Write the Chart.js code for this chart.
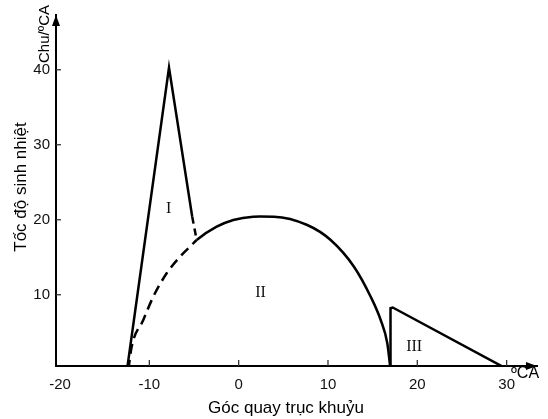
<!DOCTYPE html>
<html>
<head>
<meta charset="utf-8">
<script src="https://cdn.jsdelivr.net/npm/chart.js@4/dist/chart.umd.min.js"></script>
<style>
  html, body { margin: 0; padding: 0; background: #fff; }
  #wrap { width: 548px; height: 419px; }
</style>
</head>
<body>
<div id="wrap"><canvas id="c" width="548" height="419"></canvas></div>
<script>
// tick labels
const xTicks = [-20, -10, 0, 10, 20, 30];
const yTicks = [10, 20, 30, 40];

// I: kinetic peak, last bit dashed
const peakX = [-12.5, -7.8, -5.2, -4.7];
const peakY = [0, 40.3, 20.4, 17.3];

// II: diffusion burning (dashed up to index riseEnd, solid after)
const burnX = [-12.35, -11.98, -10.68, -9.56, -8.06, -6.57, -5.26, -4.7, -2.46, -0.6, 1.63, 2.39, 3.95, 7.68, 10.3, 12.91, 14.78, 15.9, 16.64, 17.0];
const burnY = [0, 3.07, 6.63, 9.74, 12.86, 15.07, 16.63, 17.3, 19.07, 19.97, 20.41, 20.43, 20.41, 19.3, 17.3, 13.74, 9.74, 6.63, 3.53, 0];
const riseEnd = 7;

// III: afterburning
const tailX = [17.0, 17.0, 17.25, 30.2];
const tailY = [0, 8.2, 8.3, 0];

// zone labels
const zoneText = ['I', 'II', 'III'];
const zoneX = [-7.85, 2.45, 19.65];
const zoneY = [21.4, 10.2, 3.0];

const pts = (xs, ys) => xs.map((v, i) => ({ x: v, y: ys[i] }));
const SANS = '"Liberation Sans", Arial, sans-serif';
const SERIF = '"Liberation Serif", "Times New Roman", serif';

const decor = {
    id: 'decor',
    afterDraw(chart) {
        const { ctx, chartArea: a, scales: { x, y } } = chart;
        ctx.save();
        // inward tick marks
        ctx.strokeStyle = '#333';
        ctx.lineWidth = 1.3;
        xTicks.forEach(v => {
            const px = x.getPixelForValue(v);
            if (px - a.left < 8) return;
            ctx.beginPath(); ctx.moveTo(px, a.bottom); ctx.lineTo(px, a.bottom - 6); ctx.stroke();
        });
        yTicks.forEach(v => {
            const py = y.getPixelForValue(v);
            ctx.beginPath(); ctx.moveTo(a.left, py); ctx.lineTo(a.left + 5, py); ctx.stroke();
        });
        // arrow heads
        ctx.fillStyle = '#000';
        ctx.beginPath();
        ctx.moveTo(a.right, a.bottom); ctx.lineTo(a.right - 11, a.bottom - 4); ctx.lineTo(a.right - 11, a.bottom + 4);
        ctx.closePath(); ctx.fill();
        ctx.beginPath();
        ctx.moveTo(a.left, a.top); ctx.lineTo(a.left - 4, a.top + 11); ctx.lineTo(a.left + 4, a.top + 11);
        ctx.closePath(); ctx.fill();
        // zone labels
        ctx.fillStyle = '#111';
        ctx.font = '16px ' + SERIF;
        ctx.textAlign = 'center';
        ctx.textBaseline = 'middle';
        zoneText.forEach((t, i) => ctx.fillText(t, x.getPixelForValue(zoneX[i]), y.getPixelForValue(zoneY[i])));
        // axis titles
        ctx.fillStyle = '#000';
        ctx.font = '17px ' + SANS;
        ctx.fillText('Góc quay trục khuỷu', 286, 408);
        ctx.save();
        ctx.translate(21, 187);
        ctx.rotate(-Math.PI / 2);
        ctx.fillText('Tốc độ sinh nhiệt', 0, 0);
        ctx.restore();
        // units
        ctx.font = '15px ' + SANS;
        ctx.save();
        ctx.translate(45, 34);
        ctx.rotate(-Math.PI / 2);
        ctx.fillText('Chu/ºCA', 0, 0);
        ctx.restore();
        ctx.textAlign = 'left';
        ctx.font = '16px ' + SANS;
        ctx.fillText('ºCA', 511, 374);
        ctx.restore();
    }
};

const lineBase = { borderColor: '#000', borderWidth: 2.5, pointRadius: 0, fill: false };

new Chart(document.getElementById('c'), {
    type: 'line',
    data: {
        datasets: [
            { ...lineBase, data: pts(peakX, peakY), tension: 0,
              segment: { borderDash: c => c.p1DataIndex === peakX.length - 1 ? [7, 5] : undefined } },
            { ...lineBase, data: pts(burnX, burnY), cubicInterpolationMode: 'monotone',
              segment: { borderDash: c => c.p1DataIndex <= riseEnd ? [10, 6] : undefined } },
            { ...lineBase, data: pts(tailX, tailY), tension: 0 }
        ]
    },
    options: {
        responsive: false,
        animation: false,
        layout: { padding: { top: 15, right: 11, left: 0, bottom: 0 } },
        plugins: { legend: { display: false }, tooltip: { enabled: false } },
        scales: {
            x: {
                type: 'linear', min: -20.45, max: 33.4,
                afterBuildTicks: s => { s.ticks = xTicks.map(v => ({ value: v })); },
                afterFit: s => { s.height = 53; },
                grid: { display: true, drawOnChartArea: false, drawTicks: false },
                border: { display: true, color: '#000', width: 2 },
                ticks: { color: '#111', padding: 10, font: { family: SANS, size: 15 } }
            },
            y: {
                type: 'linear', min: 0.5, max: 47.3,
                afterBuildTicks: s => { s.ticks = yTicks.map(v => ({ value: v })); },
                afterFit: s => { s.width = 56; },
                grid: { display: true, drawOnChartArea: false, drawTicks: false },
                border: { display: true, color: '#000', width: 2 },
                ticks: { color: '#111', padding: 6, font: { family: SANS, size: 15 } }
            }
        }
    },
    plugins: [decor]
});
</script>
</body>
</html>
